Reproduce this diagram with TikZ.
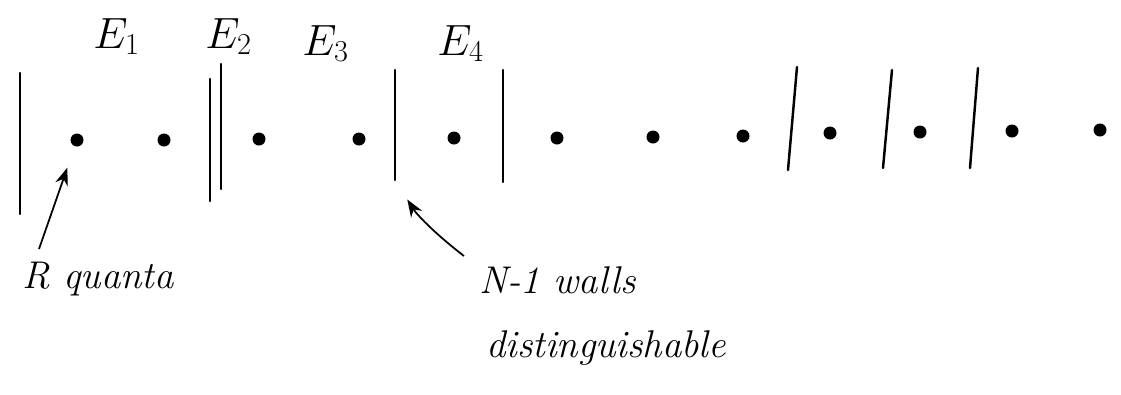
\documentclass[tikz,border=0pt]{standalone}
\usetikzlibrary{arrows.meta}
\begin{document}
\begin{tikzpicture}[x=0.2mm,y=-0.2mm,
      wall/.style={line width=1.4pt,line cap=round},
      quantum/.style={circle,fill=black,inner sep=0pt,minimum size=2.6mm},
      hand/.style={font=\fontsize{22}{26}\selectfont\itshape,inner sep=0pt,anchor=base west},
      level/.style={hand,font=\fontsize{27}{30}\selectfont},
      pointer/.style={line width=1pt,-{Stealth[length=3.5mm,width=2.6mm]}}]
    \useasboundingbox (0,0) rectangle (1121,394);
    % Dinding pemisah
    \draw[wall] (20,73) -- (20,214);
    \draw[wall] (210,79) -- (210,201);
    \draw[wall] (221,64) -- (221,189);
    \draw[wall] (395,70) -- (395,180) coordinate (w3b);
    \draw[wall] (503,70) -- (503,182);
    \draw[wall] (797,67) -- (788,170);
    \draw[wall] (892,70) -- (883,168);
    \draw[wall] (978,68) -- (970,168);
    % Kuanta
    \node[quantum] (q1) at (77,140) {};
    \node[quantum] (q2) at (164,140) {};
    \node[quantum] (q3) at (259,139) {};
    \node[quantum] (q4) at (359,139) {};
    \node[quantum] (q5) at (454,138) {};
    \node[quantum] (q6) at (557,138) {};
    \node[quantum] (q7) at (653,137) {};
    \node[quantum] (q8) at (743,136) {};
    \node[quantum] (q9) at (830,133) {};
    \node[quantum] (q10) at (920,132) {};
    \node[quantum] (q11) at (1012,131) {};
    \node[quantum] (q12) at (1100,130) {};
    % Label energi
    \node[level] (e1) at (93,48) {$E_1$};
    \node[level] (e2) at (205,48) {$E_2$};
    \node[level] (e3) at (302,55) {$E_3$};
    \node[level] (e4) at (437,55) {$E_4$};
    % Keterangan bawah
    \node[hand] (rq) at (22,288) {R quanta};
    \node[hand] (nw) at (479,293) {N-1 walls};
    \node[hand] (dist) at (486,357) {distinguishable};
    \coordinate (rtail) at (39,249);
    \coordinate (ntail) at (464,256);
    \draw[pointer,shorten >=4.5mm] (rtail) -- (q1);
    \draw[pointer,shorten >=4.6mm] (ntail) to[bend left=10] (w3b);
  \end{tikzpicture}
\end{document}
